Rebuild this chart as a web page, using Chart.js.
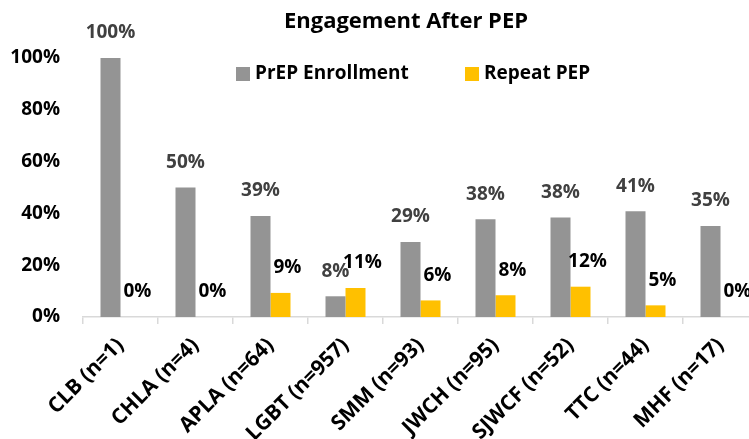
<!DOCTYPE html>
<html>
<head>
<meta charset="utf-8">
<title>Engagement After PEP</title>
<script src="https://cdn.jsdelivr.net/npm/chart.js@4.4.1/dist/chart.umd.min.js"></script>
<style>
    html, body { margin: 0; padding: 0; overflow: hidden; background: #fff; }
    #wrap { width: 768px; height: 439px; }
</style>
</head>
<body>
<div id="wrap"><canvas id="pepChart" width="768" height="439"></canvas></div>
<script>
// Data
const categories = ['CLB (n=1)', 'CHLA (n=4)', 'APLA (n=64)', 'LGBT (n=957)', 'SMM (n=93)',
    'JWCH (n=95)', 'SJWCF (n=52)', 'TTC (n=44)', 'MHF (n=17)'];
const prepEnrollment = [100, 50, 39, 8, 29, 37.7, 38.4, 40.8, 35.1];
const repeatPep = [0, 0, 9.3, 11.2, 6.4, 8.4, 11.7, 4.5, 0];
const yTicks = [0, 20, 40, 60, 80, 100];
const chartTitle = 'Engagement After PEP';

const FONT = "'Open Sans', sans-serif";

// Title, legend and value labels drawn on top of the chart
const overlayPlugin = {
    id: 'overlay',
    afterDatasetsDraw(chart) {
        const ctx = chart.ctx;
        ctx.save();
        // title
        ctx.font = 'bold 22px ' + FONT;
        ctx.fillStyle = '#000';
        ctx.textAlign = 'center';
        ctx.textBaseline = 'middle';
        ctx.fillText(chartTitle, 406, 22);

        // value labels
        ctx.font = 'bold 19px ' + FONT;
        chart.data.datasets.forEach((ds, di) => {
            const meta = chart.getDatasetMeta(di);
            meta.data.forEach((bar, i) => {
                const txt = Math.round(ds.data[i]) + '%';
                ctx.fillStyle = di === 0 ? '#404040' : '#000';
                const dx = di === 0 ? 0 : 7;
                ctx.fillText(txt, bar.x + dx, bar.y - 25);
            });
        });

        // legend
        const legendItems = [{ x: 236, ds: 0 }, { x: 465, ds: 1 }];
        ctx.textAlign = 'left';
        ctx.font = 'bold 19px ' + FONT;
        legendItems.forEach(item => {
            const ds = chart.data.datasets[item.ds];
            ctx.fillStyle = ds.backgroundColor;
            ctx.fillRect(item.x, 67, 14, 14);
            ctx.fillStyle = '#000';
            ctx.fillText(ds.label, item.x + 19, 74);
        });
        ctx.restore();
    }
};

const ctx = document.getElementById('pepChart').getContext('2d');
const pepChart = new Chart(ctx, {
    type: 'bar',
    data: {
        labels: categories,
        datasets: [{
            label: 'PrEP Enrollment',
            data: prepEnrollment,
            backgroundColor: '#949494',
            categoryPercentage: 0.5333,
            barPercentage: 1.0
        }, {
            label: 'Repeat PEP',
            data: repeatPep,
            backgroundColor: '#FFC000',
            categoryPercentage: 0.5333,
            barPercentage: 1.0
        }]
    },
    options: {
        responsive: false,
        animation: false,
        layout: {
            padding: { top: 58, right: 10, left: 0, bottom: 0 }
        },
        plugins: {
            legend: { display: false },
            title: { display: false },
            tooltip: { enabled: false }
        },
        scales: {
            x: {
                grid: {
                    display: true,
                    offset: true,
                    drawOnChartArea: false,
                    drawTicks: true,
                    tickLength: 7,
                    color: '#d9d9d9',
                    lineWidth: 1.5
                },
                border: { display: true, color: '#d9d9d9', width: 1.5 },
                ticks: {
                    color: '#000',
                    font: { family: FONT, size: 21, weight: 'bold' },
                    minRotation: 45,
                    maxRotation: 45,
                    autoSkip: false,
                    padding: 9
                },
                afterFit(scale) { scale.height = 122; }
            },
            y: {
                min: 0,
                max: 100,
                afterBuildTicks(scale) {
                    scale.ticks = yTicks.map(v => ({ value: v }));
                },
                grid: { display: false, drawTicks: false },
                border: { display: false },
                ticks: {
                    color: '#000',
                    font: { family: FONT, size: 19, weight: 'bold' },
                    padding: 23,
                    callback: v => v + '%'
                },
                afterFit(scale) { scale.width = 83; }
            }
        }
    },
    plugins: [overlayPlugin]
});
</script>
</body>
</html>
